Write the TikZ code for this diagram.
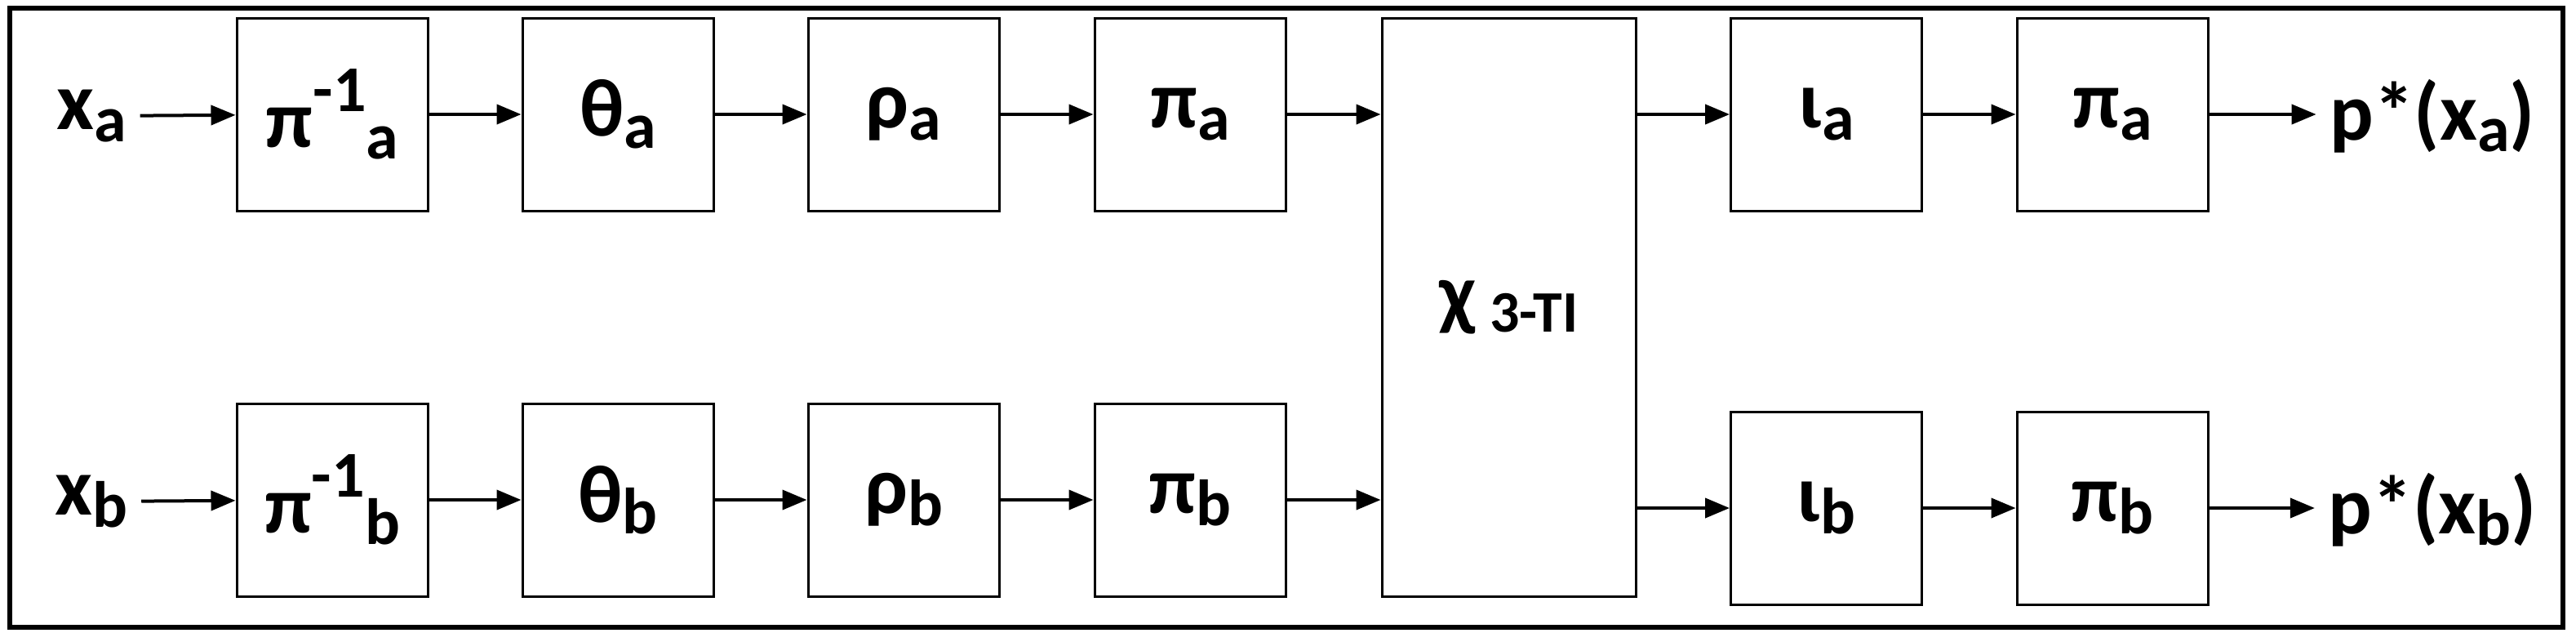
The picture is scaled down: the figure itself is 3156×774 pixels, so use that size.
\documentclass[tikz,border=0pt]{standalone}
\usepackage{fontspec}
\setmainfont{Carlito}
\usetikzlibrary{arrows.meta}
\newcommand\lo[1]{\raisebox{-0.3ex}{\fontsize{20}{24}\selectfont #1}}
\newcommand\hi[1]{\raisebox{0.9ex}{\fontsize{20}{24}\selectfont #1}}
\begin{document}
\begin{tikzpicture}[x=0.25pt,y=-0.25pt,
  box/.style={draw,line width=0.75pt,minimum width=58.5pt,minimum height=59pt,inner sep=0pt,font=\bfseries\fontsize{25}{30}\selectfont},
  lab/.style={inner sep=4pt,font=\bfseries\fontsize{25}{30}\selectfont},
  arr/.style={line width=1pt,-{Triangle[length=7.5pt,width=6pt]}}]
\useasboundingbox (0,0) rectangle (3156,774);
\draw[line width=1.5pt] (12,10) rectangle (3140,768);
\node[lab] (xa) at (112,142) {x\lo{a}};
\node[box] (pia1) at (407,140) {π\hi{-1}\lo{a}};
\node[box] (tha) at (757,140) {θ\lo{a}};
\node[box] (rha) at (1107,140) {ρ\lo{a}};
\node[box] (pia) at (1458,140) {π\lo{a}};
\node[lab] (xb) at (112,614) {x\lo{b}};
\node[box] (pib1) at (407,612) {π\hi{-1}\lo{b}};
\node[box] (thb) at (757,612) {θ\lo{b}};
\node[box] (rhb) at (1107,612) {ρ\lo{b}};
\node[box] (pib) at (1458,612) {π\lo{b}};
\node[box,minimum width=77.75pt,minimum height=177pt] (chi) at (1848.5,376) {χ\,\lo{\fontsize{18}{22}\selectfont 3-TI}};
\node[box] (ia) at (2237.5,140) {ι\lo{a}};
\node[box] (poa) at (2588,140) {π\lo{a}};
\node[box] (ib) at (2237.5,622) {ι\lo{b}};
\node[box] (pob) at (2588,622) {π\lo{b}};
\node[lab] (oa) at (2980,142) {p*(x\lo{a})};
\node[lab] (ob) at (2980,624) {p*(x\lo{b})};
\draw[arr] (xa) -- (pia1);
\draw[arr] (pia1) -- (tha);
\draw[arr] (tha) -- (rha);
\draw[arr] (rha) -- (pia);
\draw[arr] (pia.east) -- (pia.east -| chi.west);
\draw[arr] (xb) -- (pib1);
\draw[arr] (pib1) -- (thb);
\draw[arr] (thb) -- (rhb);
\draw[arr] (rhb) -- (pib);
\draw[arr] (pib.east) -- (pib.east -| chi.west);
\draw[arr] (ia.west -| chi.east) -- (ia.west);
\draw[arr] (ib.west -| chi.east) -- (ib.west);
\draw[arr] (ia) -- (poa);
\draw[arr] (ib) -- (pob);
\draw[arr] (poa.east) -- (poa.east -| oa.west);
\draw[arr] (pob.east) -- (pob.east -| ob.west);
\end{tikzpicture}
\end{document}
